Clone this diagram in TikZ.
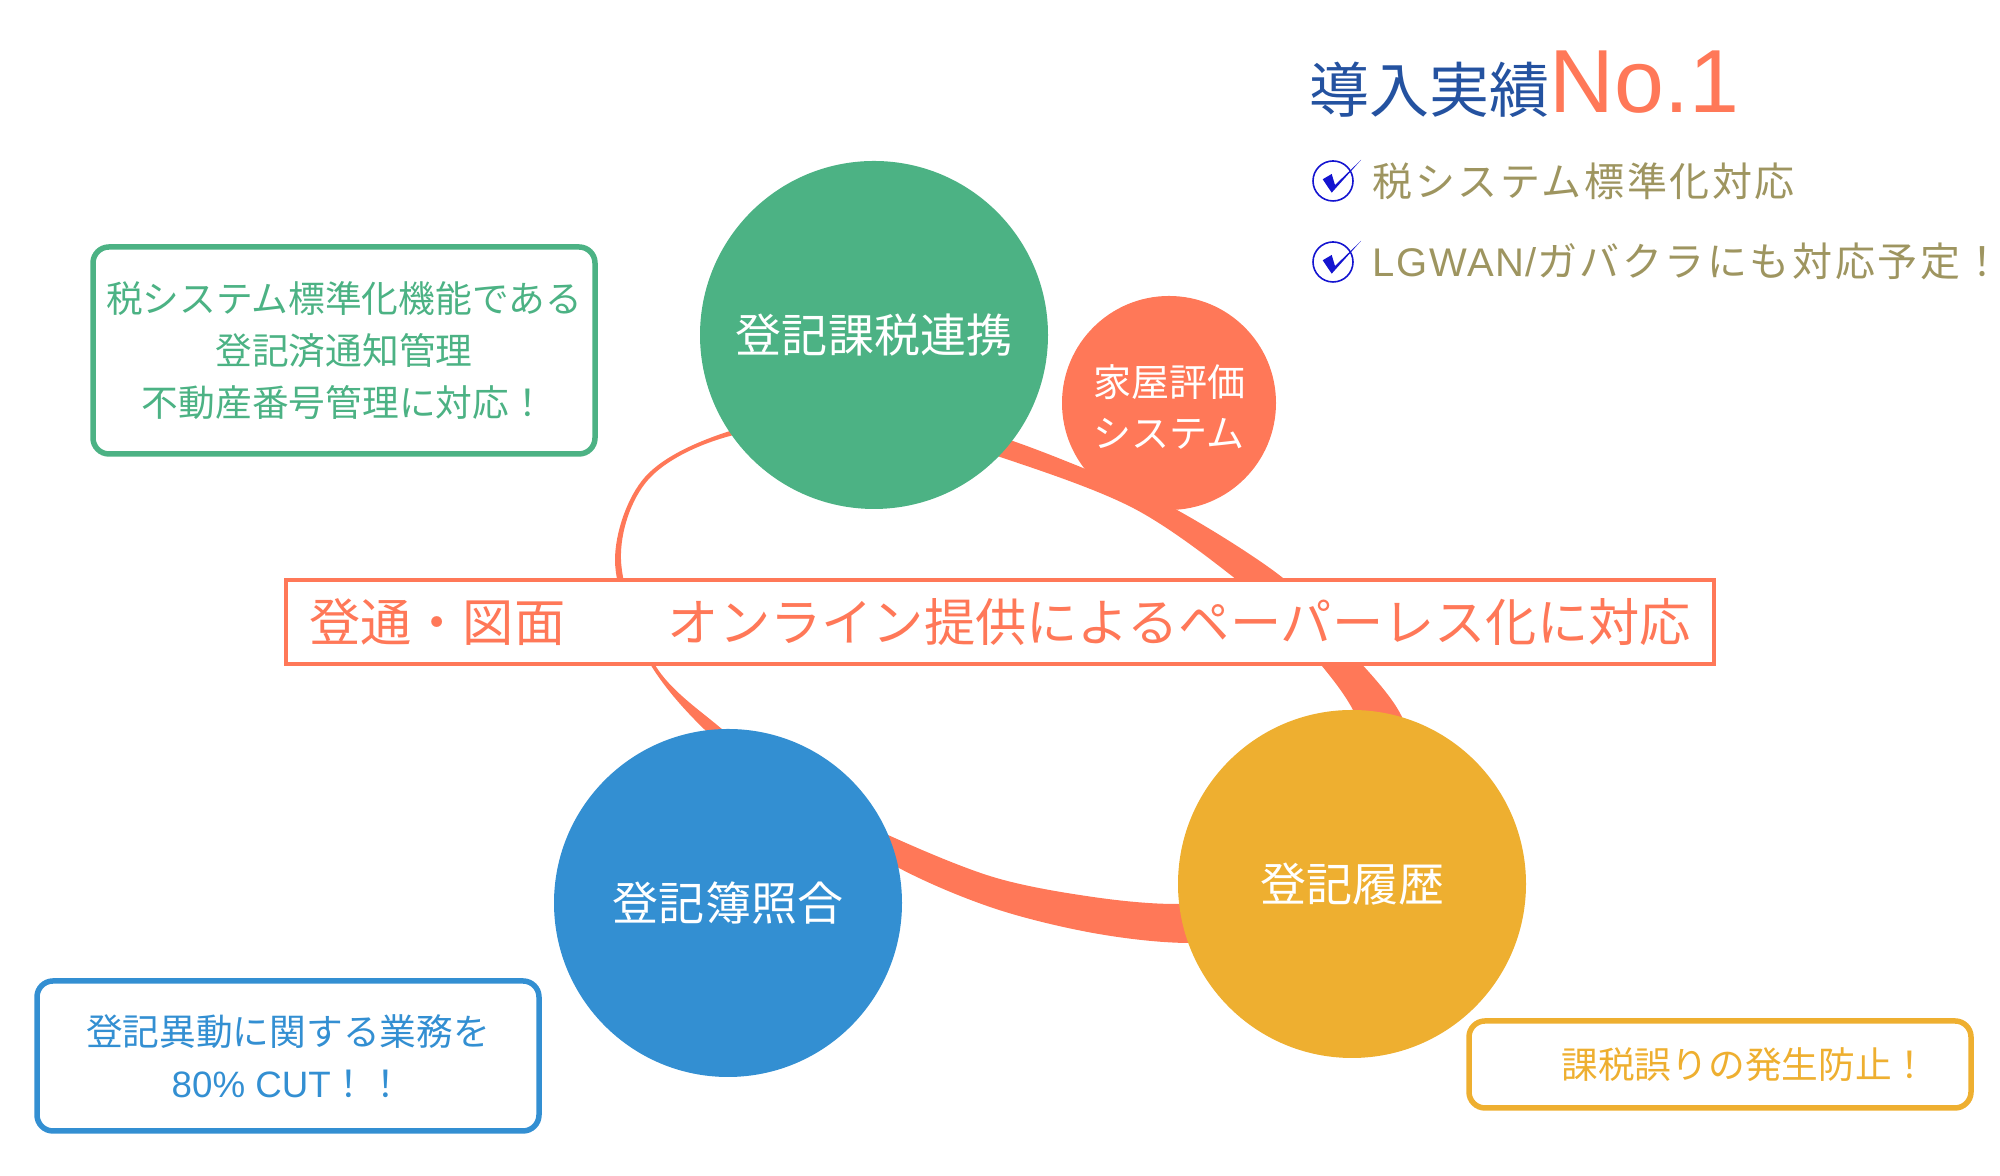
\documentclass[tikz,border=0pt]{standalone}
\usepackage{fontspec}
\setmainfont{Noto Sans CJK JP}
\newfontfamily\latinfont{Liberation Sans}
\newfontfamily\widejp[LetterSpace=6.5]{Noto Sans CJK JP}
\newfontfamily\widelatin[LetterSpace=4]{Liberation Sans}
\definecolor{ringcoral}{HTML}{FF7858}
\definecolor{taxgreen}{HTML}{4CB284}
\definecolor{bookblue}{HTML}{338FD2}
\definecolor{histyellow}{HTML}{EEAF30}
\definecolor{titleblue}{HTML}{2452A0}
\definecolor{olive}{HTML}{9E9560}
\definecolor{checkblue}{HTML}{1414D0}

\begin{document}
\begin{tikzpicture}[
  x=1cm,
  y=1cm,
  disc/.style={circle, inner sep=0pt, minimum size=3.48cm, align=center, text=white, font=\fontsize{13.09}{16}\selectfont},
  smalldisc/.style={circle, inner sep=0pt, minimum size=2.14cm, align=center, text=white, fill=ringcoral, font=\fontsize{10.81}{14.7}\selectfont},
  note/.style={draw, rounded corners=0.16cm, line width=0.055cm, minimum width=5.02cm, align=center, inner sep=0pt, font=\fontsize{10.45}{14.7}\selectfont},
  band/.style={draw=ringcoral, fill=white, line width=0.04cm, minimum width=14.28cm, minimum height=0.84cm, inner sep=0pt, text=ringcoral, font=\fontsize{14.58}{16}\selectfont},
  bullet/.style={anchor=base west, inner sep=0pt, text=olive, font=\fontsize{11.38}{14}\selectfont\widejp},
  checkmark/.pic={
    \draw[checkblue, line width=0.016cm] (0,0) circle (0.20);
    \fill[checkblue] (-0.103,0.017) -- (-0.013,0.07) -- (0.02,-0.04) -- (0.28,0.21) -- (-0.013,-0.117) -- cycle;
  }
]
  \useasboundingbox (0,0) rectangle (20,11.76);

  % ring behind the discs
  \fill[ringcoral, even odd rule]
    plot[smooth cycle, tension=0.55] coordinates {(7.30,7.45) (6.45,6.99) (6.15,6.16) (6.45,5.21) (7.05,4.46) (8.00,3.71) (8.97,3.09) (9.93,2.68) (10.93,2.43) (11.87,2.33) (12.80,2.41) (13.70,2.96) (14.15,3.76) (14.02,4.59) (13.40,5.36) (12.83,5.98) (11.77,6.66) (10.83,7.08) (9.85,7.44) (8.70,7.71)}
    plot[smooth cycle, tension=0.55] coordinates {(7.30,7.40) (6.48,6.96) (6.21,6.16) (6.55,5.11) (7.23,4.46) (8.00,3.86) (8.88,3.41) (9.93,2.99) (10.93,2.79) (11.80,2.72) (12.70,2.81) (13.40,3.16) (13.75,3.86) (13.53,4.66) (12.95,5.41) (12.37,5.96) (11.33,6.68) (10.00,7.19) (8.70,7.56)};

  \node[smalldisc] (house) at (11.69, 7.73) {\rule{0pt}{0.40cm}家屋評価\\システム};
  \node[disc, fill=taxgreen] (tax) at (8.74, 8.41) {登記課税連携};
  \node[disc, fill=bookblue] (book) at (7.28, 2.73) {登記簿照合};
  \node[disc, fill=histyellow] (hist) at (13.52, 2.92) {登記履歴};

  \node[band] (online) at (10.00, 5.54) {登通・図面　　オンライン提供によるペーパーレス化に対応};

  \node[note, draw=taxgreen, text=taxgreen, minimum height=2.07cm] (taxnote) at (3.44, 8.255) {税システム標準化機能である\\登記済通知管理\\不動産番号管理に対応！};
  \node[note, draw=bookblue, text=bookblue, minimum height=1.50cm] (booknote) at (2.88, 1.20) {登記異動に関する業務を\\{\latinfont 80\% CUT}！！};
  \node[note, draw=histyellow, text=histyellow, minimum height=0.87cm] (histnote) at (17.20, 1.115) {\hspace*{0.5cm}課税誤りの発生防止！};

  \node[anchor=base west, inner sep=0pt, text=titleblue, font=\fontsize{17.06}{20}\selectfont] (title) at (13.09, 10.63) {導入実績\textcolor{ringcoral}{\fontsize{25.5}{30}\selectfont\latinfont No.1}};
  \pic at (13.33, 9.95) {checkmark};
  \node[bullet] (std) at (13.72, 9.79) {税システム標準化対応};
  \pic at (13.33, 9.14) {checkmark};
  \node[bullet] (lgwan) at (13.72, 8.99) {{\widelatin LGWAN/}ガバクラにも対応予定！};
\end{tikzpicture}
\end{document}
